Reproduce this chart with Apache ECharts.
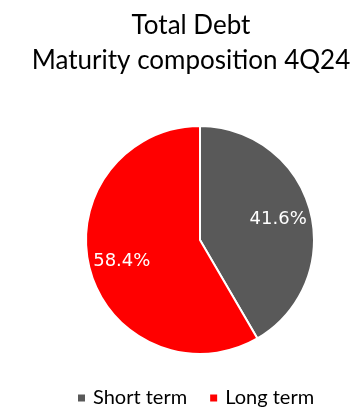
<!DOCTYPE html>
<html>
<head>
<meta charset="utf-8">
<script src="https://cdn.jsdelivr.net/npm/echarts@6/dist/echarts.min.js"></script>
<style>html,body{margin:0;padding:0;background:#fff}#c{width:359px;height:411px}</style>
</head>
<body>
<div id="c"></div>
<script>
const categories = ['Short term', 'Long term'];
const values = [41.6, 58.4];
const colors = ['#595959', '#FF0000'];
const titleLines = ['Total Debt', 'Maturity composition 4Q24'];

const data = categories.map((n, i) => ({ name: n, value: values[i], itemStyle: { color: colors[i] } }));
const chart = echarts.init(document.getElementById('c'), null, { renderer: 'canvas' });
chart.setOption({
  animation: false,
  title: {
    text: titleLines.join('\n'),
    left: 186, top: 3, textAlign: 'center',
    textStyle: { fontFamily: 'Lato', fontSize: 26, fontWeight: 'normal', color: '#000', lineHeight: 35 }
  },
  legend: {
    data: categories,
    top: 383, left: 71,
    icon: 'rect', itemWidth: 9, itemHeight: 9, itemGap: 21,
    textStyle: { fontFamily: 'Lato', fontSize: 20, color: '#000', padding: [0, 0, 0, 2] }
  },
  series: [
    {
      type: 'pie', center: [200, 240], radius: [0, 114], startAngle: 90, clockwise: true,
      data: data, silent: true,
      itemStyle: { borderColor: '#fff', borderWidth: 2 },
      label: { show: false }, labelLine: { show: false },
      emphasis: { disabled: true }
    },
    {
      type: 'pie', center: [200, 240], radius: [0, 156], startAngle: 90, clockwise: true,
      silent: true, legendHoverLink: false,
      data: categories.map((n, i) => ({ name: n + ' ', value: values[i], itemStyle: { color: 'rgba(0,0,0,0)' } })),
      label: {
        show: true, position: 'inside',
        formatter: p => values[p.dataIndex].toFixed(1) + '%',
        color: '#fff', fontFamily: 'DejaVu Sans', fontSize: 18
      },
      labelLine: { show: false },
      emphasis: { disabled: true }
    }
  ]
});
</script>
</body>
</html>
